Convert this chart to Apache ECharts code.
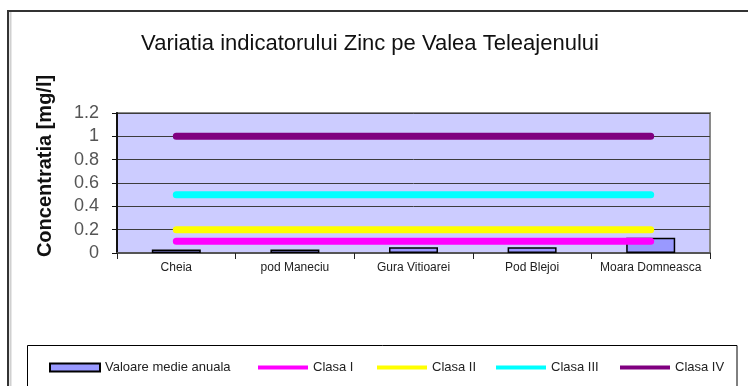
<!DOCTYPE html>
<html>
<head>
<meta charset="utf-8">
<script src="https://cdn.jsdelivr.net/npm/echarts@6/dist/echarts.min.js"></script>
<style>
  html, body { margin: 0; padding: 0; background: #ffffff; }
  #chart { width: 748px; height: 386px; }
</style>
</head>
<body>
<div id="chart"></div>
<script>
// Sampling points along the Teleajen valley
const stations = ['Cheia', 'pod Maneciu', 'Gura Vitioarei', 'Pod Blejoi', 'Moara Domneasca'];
// Annual mean zinc concentration, mg/l
const annualMean = [0.03, 0.03, 0.05, 0.05, 0.13];
// Quality class limits, mg/l
const classI = [0.1, 0.1, 0.1, 0.1, 0.1];
const classII = [0.2, 0.2, 0.2, 0.2, 0.2];
const classIII = [0.5, 0.5, 0.5, 0.5, 0.5];
const classIV = [1, 1, 1, 1, 1];
const yTicks = ['0', '0.2', '0.4', '0.6', '0.8', '1', '1.2'];

const FONT = 'Liberation Sans, Arial, sans-serif';

function limitLine(name, values, color) {
  return {
    name: name,
    type: 'line',
    data: values,
    symbol: 'none',
    z: 5,
    lineStyle: { color: color, width: 7, cap: 'round' },
    itemStyle: { color: color }
  };
}

function legendAt(left, name, height, icon) {
  return {
    data: [{ name: name, icon: icon }],
    left: left,
    top: 361,
    itemWidth: 50,
    itemHeight: height,
    padding: 0,
    selectedMode: false,
    textStyle: { fontFamily: FONT, fontSize: 13, color: '#222' }
  };
}

const chart = echarts.init(document.getElementById('chart'));
chart.setOption({
  backgroundColor: '#ffffff',
  animation: false,
  title: {
    text: 'Variatia indicatorului Zinc pe Valea Teleajenului',
    left: 365,
    textAlign: 'center',
    top: 28,
    textStyle: { fontFamily: FONT, fontSize: 22, fontWeight: 'normal', color: '#111' }
  },
  graphic: [
    {
      type: 'rect',
      shape: { x: 8, y: 11, width: 800, height: 420 },
      style: { fill: null, stroke: '#333', lineWidth: 2 },
      z: -10
    },
    {
      type: 'line',
      shape: { x1: 10.5, y1: 12, x2: 10.5, y2: 386 },
      style: { stroke: '#d0d0d0', lineWidth: 2 },
      z: -10
    },
    {
      type: 'rect',
      shape: { x: 27.5, y: 345.5, width: 709.5, height: 80 },
      style: { fill: null, stroke: '#000', lineWidth: 1 },
      z: -10
    },
    {
      type: 'text',
      x: 45,
      y: 166,
      rotation: Math.PI / 2,
      style: {
        text: 'Concentratia [mg/l]',
        fontFamily: FONT,
        fontSize: 20,
        fontWeight: 'bold',
        fill: '#111',
        align: 'center',
        verticalAlign: 'middle'
      }
    }
  ],
  legend: [
    legendAt(49, 'Valoare medie anuala', 8, 'rect'),
    legendAt(258, 'Clasa I', 4, 'rect'),
    legendAt(377, 'Clasa II', 4, 'rect'),
    legendAt(496, 'Clasa III', 4, 'rect'),
    legendAt(620, 'Clasa IV', 4, 'rect')
  ],
  grid: {
    left: 117,
    right: 38,
    top: 113,
    bottom: 133,
    show: true,
    backgroundColor: '#ccccff',
    borderColor: '#8a8a8a',
    borderWidth: 2
  },
  xAxis: {
    type: 'category',
    data: stations,
    boundaryGap: true,
    axisLine: { lineStyle: { color: '#555', width: 2 } },
    axisTick: { show: true, length: 6, lineStyle: { color: '#222' } },
    axisLabel: { interval: 0, margin: 9, fontFamily: FONT, fontSize: 12, color: '#222' }
  },
  yAxis: {
    type: 'value',
    min: 0,
    max: 1.2,
    interval: 0.2,
    axisLine: { show: true, lineStyle: { color: '#111', width: 2 } },
    axisTick: { show: true, length: 5, lineStyle: { color: '#111' } },
    axisLabel: {
      margin: 18,
      fontFamily: FONT,
      fontSize: 18,
      color: '#555',
      formatter: function (v) { return yTicks[Math.round(v / 0.2)]; }
    },
    splitLine: { show: true, lineStyle: { color: '#3c3c3c', width: 1 } }
  },
  series: [
    {
      name: 'Valoare medie anuala',
      type: 'bar',
      data: annualMean,
      barWidth: 49,
      z: 3,
      itemStyle: { color: '#9999ff', borderColor: '#000', borderWidth: 1.5 }
    },
    limitLine('Clasa I', classI, '#ff00ff'),
    limitLine('Clasa II', classII, '#ffff00'),
    limitLine('Clasa III', classIII, '#00ffff'),
    limitLine('Clasa IV', classIV, '#800080')
  ]
});
</script>
</body>
</html>
